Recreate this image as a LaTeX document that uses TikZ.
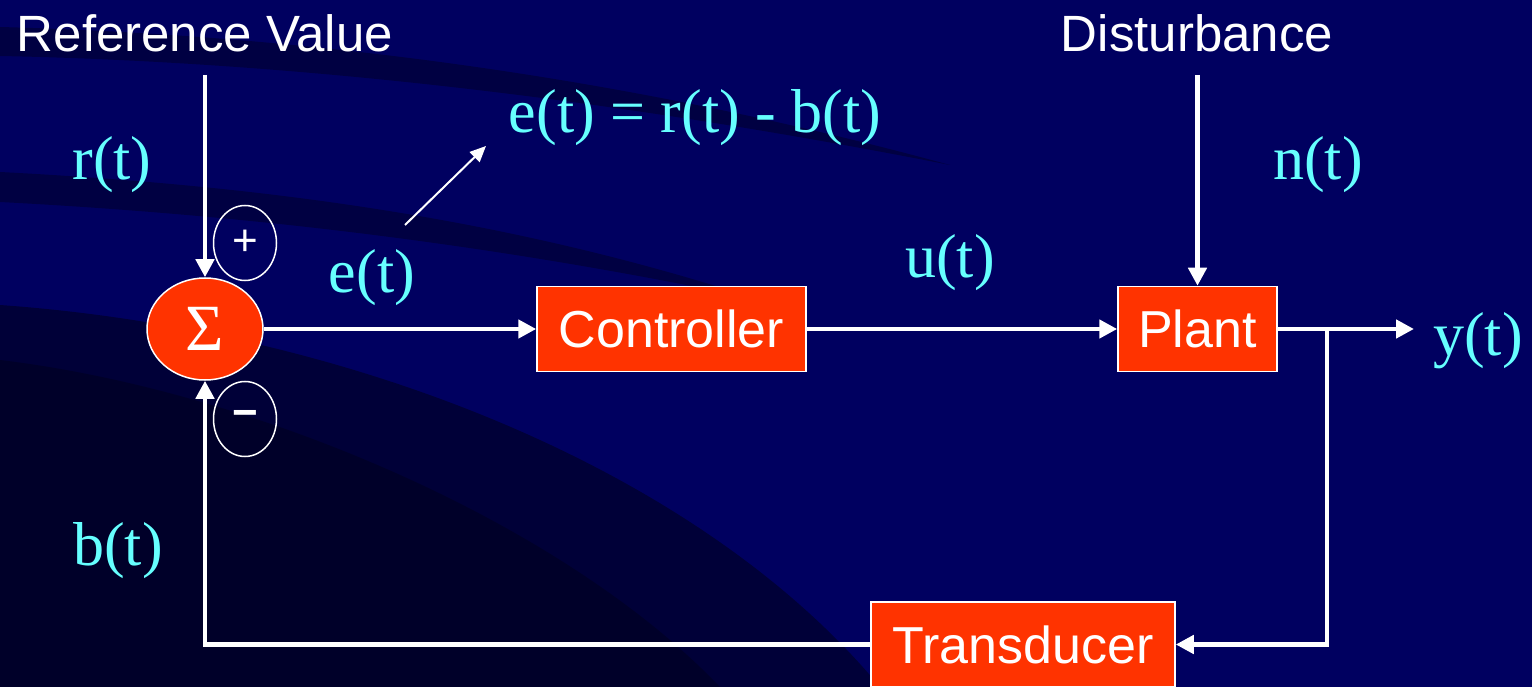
\documentclass[tikz,border=0pt]{standalone}
\usepackage{fontspec}
\setmainfont{Liberation Serif}
\newfontfamily\hsans{Liberation Sans}
\usepackage{tikz}
\usetikzlibrary{shapes.geometric,positioning,calc,arrows.meta}
\definecolor{navy}{RGB}{0,0,96}
\definecolor{navydark}{RGB}{0,0,30}
\definecolor{blkfill}{RGB}{255,51,0}
\definecolor{sigcyan}{RGB}{102,255,255}

\begin{document}
\begin{tikzpicture}[x=1pt,y=-1pt,
 head/.style={font=\hsans\fontsize{51}{60}\selectfont,text=white,anchor=base,inner sep=0pt},
 box/.style={draw=white,line width=1.5pt,fill=blkfill,minimum height=85pt,inner sep=0pt,
   text=white,font=\hsans\fontsize{52}{60}\selectfont},
 sig/.style={font=\fontsize{62}{70}\selectfont,text=sigcyan,anchor=base,inner sep=0pt},
 sgn/.style={ellipse,draw=white,line width=1.5pt,minimum width=63pt,minimum height=75pt,
   inner sep=0pt,text=white,font=\hsans\fontsize{44}{48}\selectfont},
 ar/.style={draw=white,line width=4.5pt,-{Triangle[length=18pt,width=18pt]}},
 arthin/.style={draw=white,line width=2pt,-{Triangle[length=16pt,width=14pt]}}]
\useasboundingbox (0,0) rectangle (1532,687);
\fill[navy] (0,0) rectangle (1532,687);
\fill[navydark,opacity=.45] (0,27) .. controls (300,35) and (620,75) .. (950,165)
  .. controls (620,100) and (300,62) .. (0,56) -- cycle;
\fill[navydark,opacity=.45] (0,172) .. controls (250,185) and (500,215) .. (760,300)
  .. controls (500,245) and (250,215) .. (0,202) -- cycle;
\fill[navydark,opacity=.6] (0,305) .. controls (350,330) and (700,470) .. (880,687)
  -- (0,687) -- cycle;
\fill[black,opacity=.25] (0,360) .. controls (250,390) and (560,520) .. (720,687)
  -- (0,687) -- cycle;

\node[head] (rv) at (205,52) {Reference Value};
\node[head] (dist) at (1197,52) {Disturbance};
\node[ellipse,draw=white,line width=1.5pt,fill=blkfill,minimum width=116pt,minimum height=102pt,
  inner sep=0pt,text=white,font=\fontsize{66}{70}\selectfont] (sum) at (205,329) {Σ};
\node[sgn] (plus) at (245,243) {+};
\node[sgn,font=\hsans\bfseries\fontsize{44}{48}\selectfont] (minus) at (245,419) {−};
\node[box,minimum width=269pt] (ctrl) at (671.5,329) {Controller};
\node[box,minimum width=159pt] (plant) at (1197.5,329) {Plant};
\node[box,minimum width=304pt] (trans) at (1023,644.5) {Transducer};
\node[sig] (rt) at (112,180) {r(t)};
\node[sig] (et) at (372,293) {e(t)};
\node[sig] (eq) at (695,133) {e(t) = r(t) - b(t)};
\node[sig] (ut) at (950,277) {u(t)};
\node[sig] (nt) at (1318,180) {n(t)};
\node[sig] (yt) at (1478,355) {y(t)};
\node[sig] (bt) at (118,565) {b(t)};
\coordinate (rin) at (205,75);
\coordinate (din) at (1197.5,75);
\coordinate (yout) at (1414,329);
\coordinate (br) at (1327,329);
\coordinate (p0) at (405,225);
\coordinate (p1) at (486,146);

\draw[ar] (rin) -- (sum.north);
\draw[ar] (din) -- (plant.north);
\draw[ar] (sum) -- (ctrl);
\draw[ar] (ctrl) -- (plant);
\draw[ar] (plant) -- (yout);
\draw[ar] (br) |- (trans.east);
\draw[ar] (trans.west) -| (sum.south);
\draw[arthin] (p0) -- (p1);
\end{tikzpicture}
\end{document}
